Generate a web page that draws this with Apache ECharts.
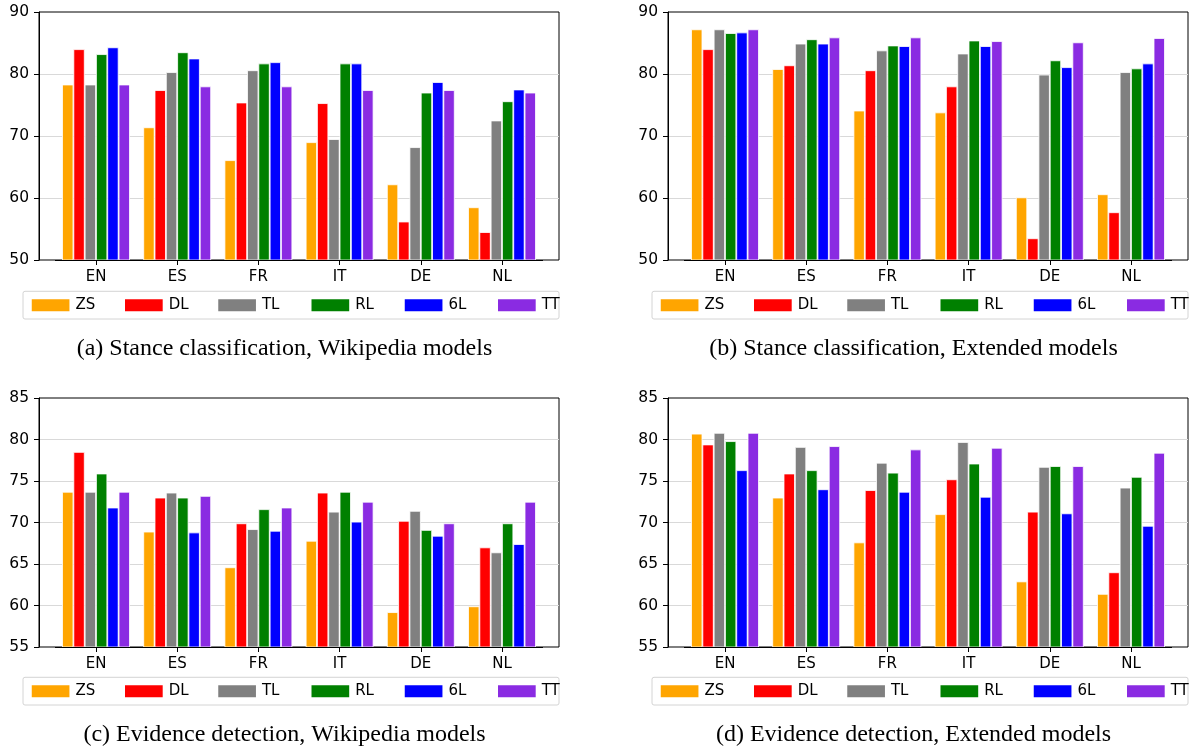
<!DOCTYPE html>
<html>
<head>
<meta charset="utf-8">
<script src="https://cdn.jsdelivr.net/npm/echarts@6/dist/echarts.min.js"></script>
<style>
html,body{margin:0;padding:0;background:#fff;}
#chart{width:1192px;height:749px;}
</style>
</head>
<body>
<div id="chart"></div>
<script>
// Categories and method names
const categories = ['EN', 'ES', 'FR', 'IT', 'DE', 'NL'];
const methods = ['ZS', 'DL', 'TL', 'RL', '6L', 'TT'];
const methodColors = ['#ffa500', '#ff0000', '#808080', '#008000', '#0000ff', '#8a2be2'];
const captions = [
  '(a) Stance classification, Wikipedia models',
  '(b) Stance classification, Extended models',
  '(c) Evidence detection, Wikipedia models',
  '(d) Evidence detection, Extended models'
];
const stanceTicks = [50, 60, 70, 80, 90];
const evidenceTicks = [55, 60, 65, 70, 75, 80, 85];

// (a) Stance classification, Wikipedia models
const aZS = [78.3, 71.4, 66.1, 69.0, 62.2, 58.5];
const aDL = [84.0, 77.4, 75.4, 75.3, 56.2, 54.5];
const aTL = [78.3, 80.3, 80.6, 69.5, 68.2, 72.5];
const aRL = [83.2, 83.5, 81.7, 81.7, 77.0, 75.6];
const a6L = [84.3, 82.5, 81.9, 81.7, 78.7, 77.5];
const aTT = [78.3, 78.0, 78.0, 77.4, 77.4, 77.0];

// (b) Stance classification, Extended models
const bZS = [87.2, 80.8, 74.1, 73.8, 60.1, 60.6];
const bDL = [84.0, 81.4, 80.6, 78.0, 53.5, 57.7];
const bTL = [87.2, 84.9, 83.8, 83.3, 79.9, 80.3];
const bRL = [86.6, 85.6, 84.6, 85.4, 82.2, 80.9];
const b6L = [86.7, 84.9, 84.5, 84.5, 81.1, 81.7];
const bTT = [87.2, 85.9, 85.9, 85.3, 85.1, 85.8];

// (c) Evidence detection, Wikipedia models
const cZS = [73.7, 68.9, 64.6, 67.8, 59.2, 59.9];
const cDL = [78.5, 73.0, 69.9, 73.6, 70.2, 67.0];
const cTL = [73.7, 73.6, 69.2, 71.3, 71.4, 66.4];
const cRL = [75.9, 73.0, 71.6, 73.7, 69.1, 69.9];
const c6L = [71.8, 68.8, 69.0, 70.1, 68.4, 67.4];
const cTT = [73.7, 73.2, 71.8, 72.5, 69.9, 72.5];

// (d) Evidence detection, Extended models
const dZS = [80.7, 73.0, 67.6, 71.0, 62.9, 61.4];
const dDL = [79.4, 75.9, 73.9, 75.2, 71.3, 64.0];
const dTL = [80.8, 79.1, 77.2, 79.7, 76.7, 74.2];
const dRL = [79.8, 76.3, 76.0, 77.1, 76.8, 75.5];
const d6L = [76.3, 74.0, 73.7, 73.1, 71.1, 69.6];
const dTT = [80.8, 79.2, 78.8, 79.0, 76.8, 78.4];

const panelData = [
  [aZS, aDL, aTL, aRL, a6L, aTT],
  [bZS, bDL, bTL, bRL, b6L, bTT],
  [cZS, cDL, cTL, cRL, c6L, cTT],
  [dZS, dDL, dTL, dRL, d6L, dTT]
];
const panelTicks = [stanceTicks, stanceTicks, evidenceTicks, evidenceTicks];

// layout (pixels)
const panels = [
  {x0: 39, y0: 12, h: 248},
  {x0: 668, y0: 12, h: 248},
  {x0: 39, y0: 398, h: 249},
  {x0: 668, y0: 398, h: 249}
];
const W = 520;
const catW = 81.2;
const barOffset = 57 - catW / 2;

const sans = 'DejaVu Sans';
const grids = [], xAxes = [], yAxes = [], series = [], legends = [], graphics = [];

panels.forEach((p, i) => {
  const ticks = panelTicks[i];
  const ymin = ticks[0], ymax = ticks[ticks.length - 1], step = ticks[1] - ticks[0];
  grids.push({left: p.x0, top: p.y0, width: W, height: p.h, show: true,
    borderColor: '#000', borderWidth: 1, backgroundColor: 'transparent', containLabel: false});
  xAxes.push({type: 'value', gridIndex: i, min: 0, max: 1, show: false});
  yAxes.push({type: 'value', gridIndex: i, min: ymin, max: ymax, interval: step,
    axisLine: {show: true, lineStyle: {color: '#000', width: 1}},
    axisTick: {show: true, length: 5, lineStyle: {color: '#000'}},
    axisLabel: {color: '#000', fontFamily: sans, fontSize: 15.5, margin: 10},
    splitLine: {show: true, showMinLine: false, showMaxLine: false, lineStyle: {color: '#d9d9d9', width: 1}}
  });
});

panels.forEach((p, i) => {
  const ticks = panelTicks[i];
  const ymin = ticks[0], ymax = ticks[ticks.length - 1];
  const gi = 4 + i;
  grids.push({left: p.x0 + barOffset, top: p.y0, width: catW * 6, height: p.h, show: false});
  xAxes.push({type: 'category', gridIndex: gi, data: categories, boundaryGap: true, z: 10,
    axisLine: {show: true, lineStyle: {color: '#000', width: 1}},
    axisTick: {show: true, alignWithLabel: true, length: 5, lineStyle: {color: '#000'}},
    axisLabel: {color: '#000', fontFamily: sans, fontSize: 15, margin: 10}
  });
  yAxes.push({type: 'value', gridIndex: gi, min: ymin, max: ymax, show: false, splitLine: {show: false}});
  methods.forEach((m, k) => {
    series.push({
      type: 'bar', name: m, xAxisIndex: gi, yAxisIndex: gi,
      data: panelData[i][k],
      barGap: '0%', barCategoryGap: '16.5%',
      itemStyle: {color: methodColors[k], borderColor: '#fff', borderWidth: 0.8},
      emphasis: {disabled: true}, animation: false
    });
  });
  legends.push({
    data: methods, left: p.x0 - 9.25, top: p.y0 + 285.3, orient: 'horizontal',
    width: 560, padding: 0, itemWidth: 39.7, itemHeight: 14, itemGap: 27.55,
    icon: 'rect', selectedMode: false,
    formatter: '{t|{name}}',
    textStyle: {color: '#000', fontFamily: sans, fontSize: 15,
      rich: {t: {width: 20, fontSize: 15, fontFamily: sans, color: '#000', lineHeight: 14}}}
  });
  graphics.push({
    type: 'rect', z: -1,
    shape: {x: p.x0 - 16, y: p.y0 + 279.3, width: W + 16, height: 27.7, r: 2},
    style: {fill: '#fff', stroke: '#d4d4d4', lineWidth: 1}
  });
  graphics.push({
    type: 'text',
    x: p.x0 + 245.5, y: p.y0 + 337,
    style: {text: captions[i], font: '24px "Liberation Serif"', fill: '#000',
      textAlign: 'center', textVerticalAlign: 'middle'}
  });
});

const chart = echarts.init(document.getElementById('chart'), null, {renderer: 'canvas'});
chart.setOption({
  backgroundColor: '#fff',
  animation: false,
  grid: grids, xAxis: xAxes, yAxis: yAxes, series: series,
  legend: legends, graphic: graphics
});
</script>
</body>
</html>
